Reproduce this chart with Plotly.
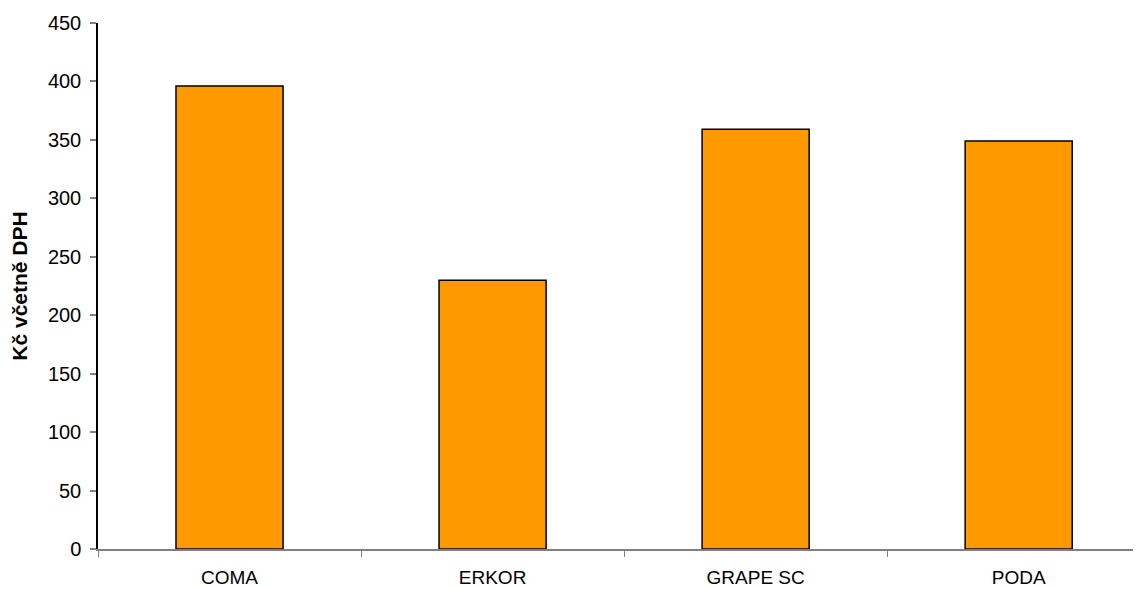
import plotly.graph_objects as go

categories = ["COMA", "ERKOR", "GRAPE SC", "PODA"]
values = [396, 230, 359, 349]
y_ticks = [0, 50, 100, 150, 200, 250, 300, 350, 400, 450]

fig = go.Figure()
fig.add_trace(go.Bar(
    x=categories, y=values,
    marker=dict(color="#FF9900", line=dict(color="#000000", width=1.5)),
    width=0.407,
))

# the page body adds an 8px margin, so the figure is sized/offset to compensate
fig.update_layout(
    width=1133, height=581,
    margin=dict(l=90, r=0, t=15, b=40),
    paper_bgcolor="white", plot_bgcolor="white",
    font=dict(family="Liberation Sans, Arial, sans-serif", color="black", size=19),
    showlegend=False,
)
fig.update_xaxes(
    range=[-0.5, 3.465],
    showline=True, linecolor="#808080", linewidth=2,
    ticks="outside", tickson="boundaries", ticklen=6, tickcolor="#808080", tickwidth=1,
    showgrid=False, zeroline=False,
    tickfont=dict(size=19),
    ticklabelstandoff=10,
)
fig.update_yaxes(
    range=[0, 450], tickvals=y_ticks,
    showline=True, linecolor="#000000", linewidth=1.5,
    ticks="outside", ticklen=6, tickcolor="#808080", tickwidth=2,
    showgrid=False, zeroline=False,
    tickfont=dict(size=20),
    ticklabelstandoff=5,
    title=dict(text="<b>Kč včetně DPH</b>", font=dict(size=21), standoff=16),
)
fig.write_html("out.html")
